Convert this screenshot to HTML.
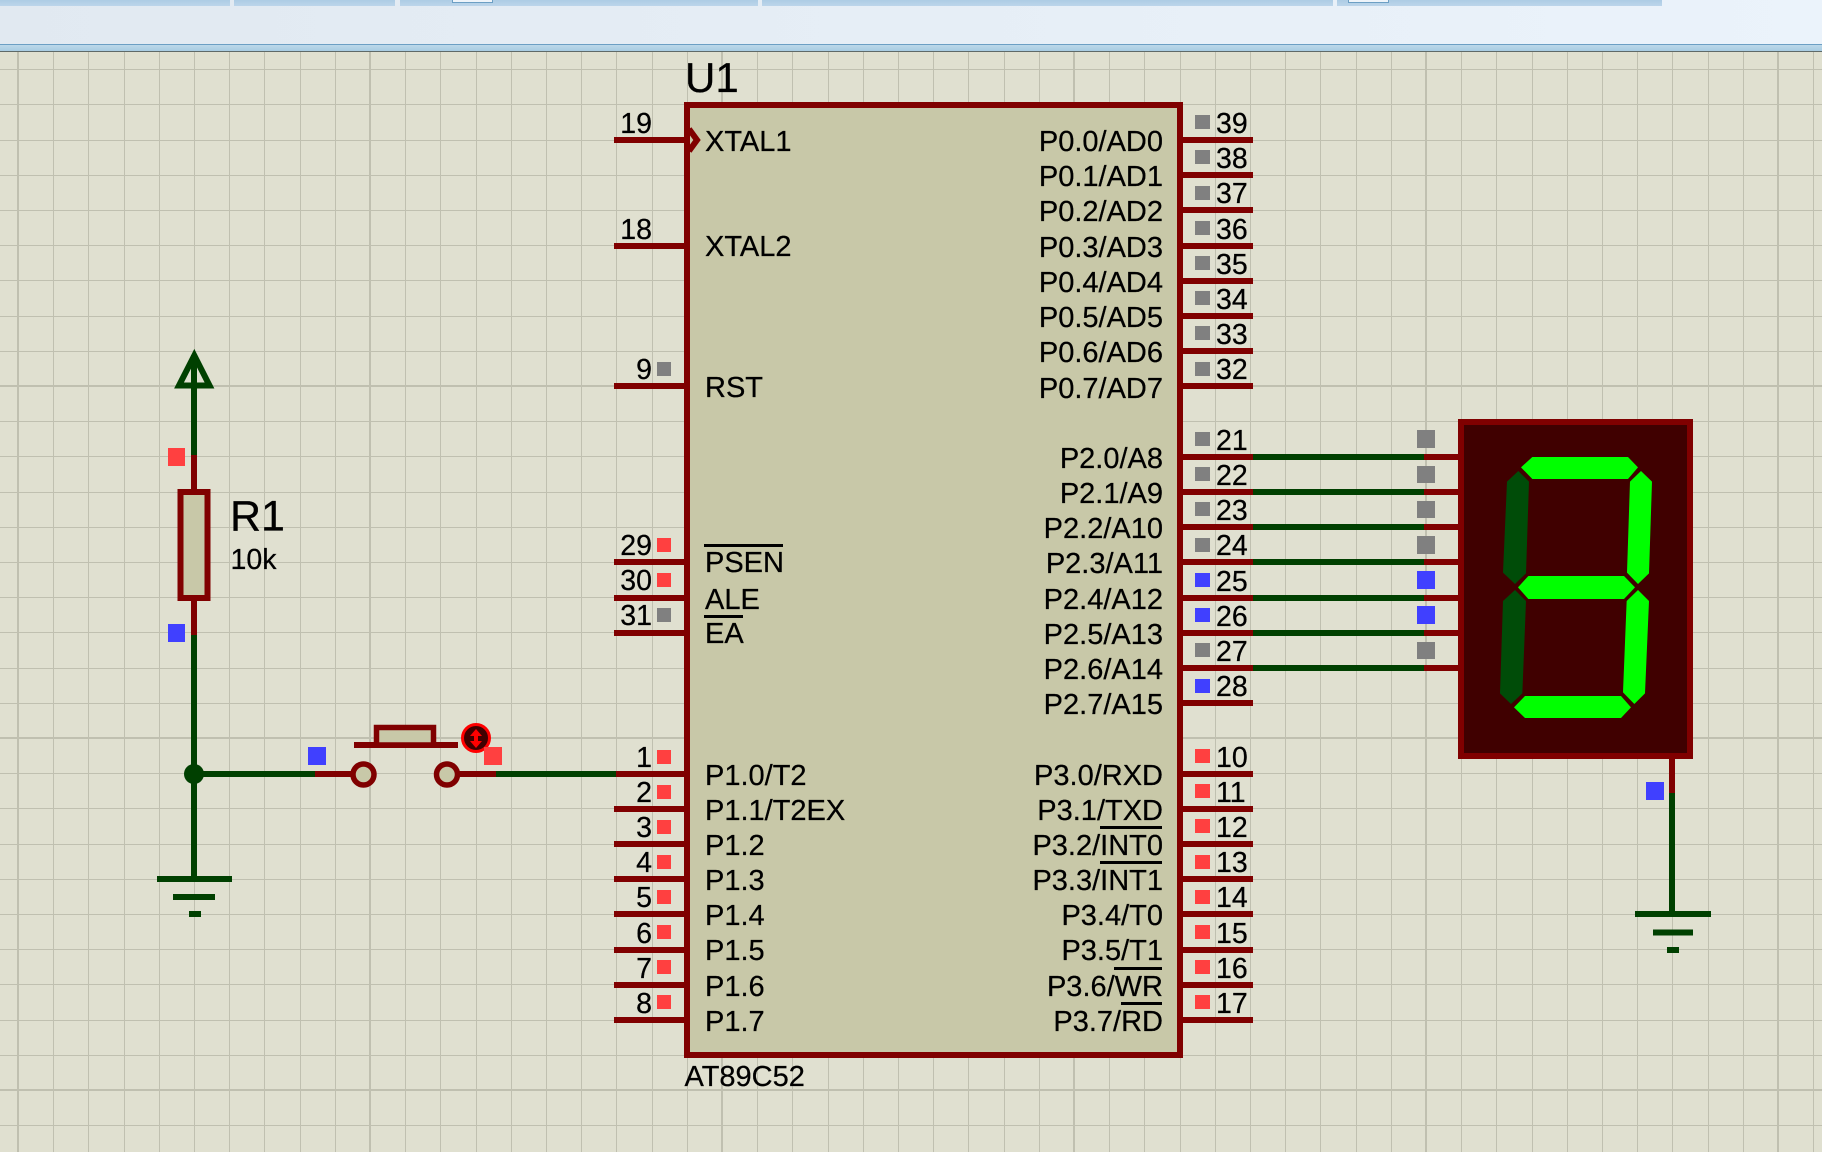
<!DOCTYPE html>
<html><head><meta charset="utf-8"><style>
html,body{margin:0;padding:0;background:#e0e0d0;width:1822px;height:1152px;overflow:hidden}
svg{display:block}
text{font-family:"Liberation Sans",sans-serif;fill:#000;stroke:#000;stroke-width:.25}
.n{font-size:28.5px}
.l{font-size:29px}
.e{text-anchor:end}
.g{stroke:#c0c0b0;stroke-width:1;shape-rendering:crispEdges}
.m{stroke:#c0c0b0;stroke-width:2;shape-rendering:crispEdges}
.r{stroke:#800000;stroke-width:6;fill:none}
.w{stroke:#004000;stroke-width:6;fill:none}
.o{stroke:#000;stroke-width:3;shape-rendering:crispEdges}
.R{fill:#ff4040}.B{fill:#4040ff}.G{fill:#808080}
</style></head><body>
<svg width="1822" height="1152" viewBox="0 0 1822 1152" xmlns="http://www.w3.org/2000/svg">
<defs>
<linearGradient id="bg" x1="0" x2="1" y1="0" y2="0"><stop offset="0" stop-color="#e1e9f1"/><stop offset="1" stop-color="#ebf3fb"/></linearGradient>
<linearGradient id="st" x1="0" x2="0" y1="0" y2="1"><stop offset="0" stop-color="#adcce4"/><stop offset="1" stop-color="#bcd5ea"/></linearGradient>
<linearGradient id="bd" x1="0" x2="0" y1="0" y2="1"><stop offset="0" stop-color="#bcd8ea"/><stop offset="1" stop-color="#a8cce2"/></linearGradient>
</defs>
<rect width="1822" height="1152" fill="#e0e0d0"/>
<!-- grid vertical -->
<g class="g">
<path d="M53.5 52V1152M88.5 52V1152M124.5 52V1152M159.5 52V1152M194.5 52V1152M229.5 52V1152M264.5 52V1152M300.5 52V1152M335.5 52V1152M405.5 52V1152M440.5 52V1152M476.5 52V1152M511.5 52V1152M546.5 52V1152M581.5 52V1152M616.5 52V1152M652.5 52V1152M687.5 52V1152M757.5 52V1152M792.5 52V1152M828.5 52V1152M863.5 52V1152M898.5 52V1152M933.5 52V1152M968.5 52V1152M1004.5 52V1152M1039.5 52V1152M1109.5 52V1152M1144.5 52V1152M1180.5 52V1152M1215.5 52V1152M1250.5 52V1152M1285.5 52V1152M1320.5 52V1152M1356.5 52V1152M1391.5 52V1152M1461.5 52V1152M1496.5 52V1152M1532.5 52V1152M1567.5 52V1152M1602.5 52V1152M1637.5 52V1152M1672.5 52V1152M1708.5 52V1152M1743.5 52V1152M1813.5 52V1152"/>
<path d="M0 69.5H1822M0 104.5H1822M0 140.5H1822M0 175.5H1822M0 210.5H1822M0 245.5H1822M0 280.5H1822M0 316.5H1822M0 351.5H1822M0 421.5H1822M0 456.5H1822M0 492.5H1822M0 527.5H1822M0 562.5H1822M0 597.5H1822M0 632.5H1822M0 668.5H1822M0 703.5H1822M0 773.5H1822M0 808.5H1822M0 844.5H1822M0 879.5H1822M0 914.5H1822M0 949.5H1822M0 984.5H1822M0 1020.5H1822M0 1055.5H1822M0 1125.5H1822"/>
</g>
<g class="m">
<path d="M18 52V1152M370 52V1152M722 52V1152M1074 52V1152M1426 52V1152M1778 52V1152"/>
<path d="M0 386H1822M0 738H1822M0 1090H1822"/>
</g>
<!-- toolbar -->
<rect width="1822" height="44" fill="url(#bg)"/>
<rect x="0" y="0" width="230" height="6" fill="url(#st)"/>
<rect x="234" y="0" width="161" height="6" fill="url(#st)"/>
<rect x="400" y="0" width="358" height="6" fill="url(#st)"/>
<rect x="762" y="0" width="571" height="6" fill="url(#st)"/>
<rect x="1337" y="0" width="325" height="6" fill="url(#st)"/>
<rect x="452.5" y="-2" width="40" height="4.5" fill="#eef4fa" stroke="#6c9fc4"/>
<rect x="1348.5" y="-2" width="40" height="4.5" fill="#eef4fa" stroke="#6c9fc4"/>
<rect x="0" y="44" width="1822" height="1" fill="#6c9fc4"/>
<rect x="0" y="45" width="1822" height="6" fill="url(#bd)"/>
<rect x="0" y="51" width="1822" height="1" fill="#5f6a68"/>

<!-- chip -->
<rect x="687" y="105" width="493" height="950" fill="#c8c8a8" stroke="#800000" stroke-width="6"/>
<text x="685" y="92" style="font-size:42px">U1</text>
<text x="684.5" y="1086" style="font-size:29px">AT89C52</text>
<path class="r" d="M614 140H687M614 246H687M614 386H687M614 562H687M614 598H687M614 633H687M614 774H687M614 809H687M614 844H687M614 879H687M614 914H687M614 950H687M614 985H687M614 1020H687"/>
<path class="r" d="M689 129L697 140L689 151"/>
<path class="r" d="M1180 140H1253M1180 175H1253M1180 210H1253M1180 246H1253M1180 281H1253M1180 316H1253M1180 351H1253M1180 386H1253M1180 457H1253M1180 492H1253M1180 527H1253M1180 562H1253M1180 598H1253M1180 633H1253M1180 668H1253M1180 703H1253M1180 774H1253M1180 809H1253M1180 844H1253M1180 879H1253M1180 914H1253M1180 950H1253M1180 985H1253M1180 1020H1253"/>

<!-- left pin numbers -->
<g class="n">
<text class="e" x="652" y="133">19</text><text class="e" x="652" y="239">18</text><text class="e" x="652" y="379">9</text>
<text class="e" x="652" y="555">29</text><text class="e" x="652" y="590">30</text><text class="e" x="652" y="625">31</text>
<text class="e" x="652" y="767">1</text><text class="e" x="652" y="802">2</text><text class="e" x="652" y="837">3</text><text class="e" x="652" y="872">4</text><text class="e" x="652" y="907">5</text><text class="e" x="652" y="943">6</text><text class="e" x="652" y="978">7</text><text class="e" x="652" y="1013">8</text>
</g>
<!-- right pin numbers -->
<g class="n">
<text x="1216" y="133">39</text><text x="1216" y="168">38</text><text x="1216" y="203">37</text><text x="1216" y="239">36</text><text x="1216" y="274">35</text><text x="1216" y="309">34</text><text x="1216" y="344">33</text><text x="1216" y="379">32</text>
<text x="1216" y="450">21</text><text x="1216" y="485">22</text><text x="1216" y="520">23</text><text x="1216" y="555">24</text><text x="1216" y="591">25</text><text x="1216" y="626">26</text><text x="1216" y="661">27</text><text x="1216" y="696">28</text>
<text x="1216" y="767">10</text><text x="1216" y="802">11</text><text x="1216" y="837">12</text><text x="1216" y="872">13</text><text x="1216" y="907">14</text><text x="1216" y="943">15</text><text x="1216" y="978">16</text><text x="1216" y="1013">17</text>
</g>
<!-- left labels -->
<g class="l">
<text x="705" y="151">XTAL1</text><text x="705" y="256">XTAL2</text><text x="705" y="397">RST</text>
<text x="705" y="572">PSEN</text><text x="705" y="609">ALE</text><text x="705" y="643">EA</text>
<text x="705" y="785">P1.0/T2</text><text x="705" y="820">P1.1/T2EX</text><text x="705" y="855">P1.2</text><text x="705" y="890">P1.3</text><text x="705" y="925">P1.4</text><text x="705" y="960">P1.5</text><text x="705" y="996">P1.6</text><text x="705" y="1031">P1.7</text>
</g>
<!-- right labels -->
<g class="l">
<text class="e" x="1163" y="151">P0.0/AD0</text><text class="e" x="1163" y="186">P0.1/AD1</text><text class="e" x="1163" y="221">P0.2/AD2</text><text class="e" x="1163" y="257">P0.3/AD3</text><text class="e" x="1163" y="292">P0.4/AD4</text><text class="e" x="1163" y="327">P0.5/AD5</text><text class="e" x="1163" y="362">P0.6/AD6</text><text class="e" x="1163" y="398">P0.7/AD7</text>
<text class="e" x="1163" y="468">P2.0/A8</text><text class="e" x="1163" y="503">P2.1/A9</text><text class="e" x="1163" y="538">P2.2/A10</text><text class="e" x="1163" y="573">P2.3/A11</text><text class="e" x="1163" y="609">P2.4/A12</text><text class="e" x="1163" y="644">P2.5/A13</text><text class="e" x="1163" y="679">P2.6/A14</text><text class="e" x="1163" y="714">P2.7/A15</text>
<text class="e" x="1163" y="785">P3.0/RXD</text><text class="e" x="1163" y="820">P3.1/TXD</text><text class="e" x="1163" y="855">P3.2/INT0</text><text class="e" x="1163" y="890">P3.3/INT1</text><text class="e" x="1163" y="925">P3.4/T0</text><text class="e" x="1163" y="960">P3.5/T1</text><text class="e" x="1163" y="996">P3.6/WR</text><text class="e" x="1163" y="1031">P3.7/RD</text>
</g>
<path class="o" d="M704 545.5H783M704 616.5H743M1100 827.5H1162M1100 862.5H1162M1114 968.5H1162M1121 1003.5H1162"/>

<!-- left pin squares -->
<rect class="G" x="657" y="362" width="14" height="14"/>
<rect class="R" x="657" y="538" width="14" height="14"/><rect class="R" x="657" y="573" width="14" height="14"/><rect class="G" x="657" y="608" width="14" height="14"/>
<rect class="R" x="657" y="750" width="14" height="14"/><rect class="R" x="657" y="785" width="14" height="14"/><rect class="R" x="657" y="820" width="14" height="14"/><rect class="R" x="657" y="855" width="14" height="14"/><rect class="R" x="657" y="890" width="14" height="14"/><rect class="R" x="657" y="925" width="14" height="14"/><rect class="R" x="657" y="960" width="14" height="14"/><rect class="R" x="657" y="995" width="14" height="14"/>
<!-- right pin squares -->
<rect class="G" x="1195" y="115" width="15" height="14"/><rect class="G" x="1195" y="150" width="15" height="14"/><rect class="G" x="1195" y="186" width="15" height="14"/><rect class="G" x="1195" y="221" width="15" height="14"/><rect class="G" x="1195" y="256" width="15" height="14"/><rect class="G" x="1195" y="291" width="15" height="14"/><rect class="G" x="1195" y="326" width="15" height="14"/><rect class="G" x="1195" y="362" width="15" height="14"/>
<rect class="G" x="1195" y="432" width="15" height="14"/><rect class="G" x="1195" y="467" width="15" height="14"/><rect class="G" x="1195" y="502" width="15" height="14"/><rect class="G" x="1195" y="538" width="15" height="14"/><rect class="B" x="1195" y="573" width="15" height="14"/><rect class="B" x="1195" y="608" width="15" height="14"/><rect class="G" x="1195" y="643" width="15" height="14"/><rect class="B" x="1195" y="679" width="15" height="14"/>
<rect class="R" x="1195" y="749" width="15" height="14"/><rect class="R" x="1195" y="784" width="15" height="14"/><rect class="R" x="1195" y="819" width="15" height="14"/><rect class="R" x="1195" y="855" width="15" height="14"/><rect class="R" x="1195" y="890" width="15" height="14"/><rect class="R" x="1195" y="925" width="15" height="14"/><rect class="R" x="1195" y="960" width="15" height="14"/><rect class="R" x="1195" y="995" width="15" height="14"/>

<!-- P2 wires to display -->
<path class="w" d="M1253 457H1424M1253 492H1424M1253 527H1424M1253 562H1424M1253 598H1424M1253 633H1424M1253 668H1424"/>
<path class="r" d="M1424 457H1460M1424 492H1460M1424 527H1460M1424 562H1460M1424 598H1460M1424 633H1460M1424 668H1460"/>
<rect class="G" x="1417" y="430" width="18" height="18"/><rect class="G" x="1417" y="466" width="18" height="17"/><rect class="G" x="1417" y="501" width="18" height="17"/><rect class="G" x="1417" y="536" width="18" height="18"/><rect class="B" x="1417" y="571" width="18" height="18"/><rect class="B" x="1417" y="606" width="18" height="18"/><rect class="G" x="1417" y="642" width="18" height="17"/>

<!-- display -->
<rect x="1461" y="422" width="229" height="334" fill="#400000" stroke="#800000" stroke-width="6"/>
<g transform="translate(1400 400) scale(0.33333)">
<polygon fill="#00ff00" points="363,202 397,171 684,171 714,202 684,237 397,237"/>
<polygon fill="#00ff00" points="723,213 756,245 747,520 714,552 681,518 690,245"/>
<polygon fill="#004c08" points="355,213 387,245 378,520 345,552 309,518 321,245"/>
<polygon fill="#00ff00" points="354,562 385,528 672,528 705,562 672,597 385,597"/>
<polygon fill="#004c08" points="345,570 378,603 367,880 333,912 300,880 309,603"/>
<polygon fill="#00ff00" points="714,570 747,603 735,880 703,912 669,877 680,603"/>
<polygon fill="#00ff00" points="342,922 375,888 663,888 693,922 663,954 375,954"/>
</g>
<!-- display ground -->
<path class="r" d="M1672 758V793"/>
<path class="w" d="M1672 793V914M1635 914H1711M1653 932.5H1693M1667 950H1679"/>
<rect class="B" x="1646" y="782" width="18" height="18"/>

<!-- left circuit -->
<path class="w" d="M194 455V355M194 635V879M157 879H232M173 897H215M189 914H201"/>
<path class="w" stroke-linejoin="miter" d="M194.3 355.5L209.5 385.5H179Z"/>
<path class="r" d="M194 455V489M194 601V635"/>
<rect x="180.500" y="492" width="27" height="106" fill="#c8c8a8" stroke="#800000" stroke-width="6"/>
<text x="230" y="530.500" style="font-size:43px">R1</text>
<text x="230.500" y="569" class="n">10k</text>
<rect class="R" x="168" y="448" width="17" height="18"/>
<rect class="B" x="168" y="624" width="17" height="18"/>
<circle cx="194" cy="774" r="10" fill="#004000"/>
<path class="w" d="M194 774H315M496 774H616"/>
<path class="r" d="M315 774H352M459 774H496"/>
<path class="r" d="M354 745H458"/>
<rect x="376.500" y="727.500" width="57" height="17.500" fill="#c8c8a8" stroke="#800000" stroke-width="5.500"/>
<circle cx="363.500" cy="774.500" r="10.500" fill="#c8c8a8" stroke="#800000" stroke-width="5.500"/>
<circle cx="447" cy="774.500" r="10.500" fill="#c8c8a8" stroke="#800000" stroke-width="5.500"/>
<rect class="B" x="308" y="747" width="18" height="18"/>
<circle cx="476" cy="738" r="13.500" fill="#400000" stroke="#ff0000" stroke-width="3"/>
<path d="M476 729L482 736H478V741H482L476 748L470 741H474V736H470Z" fill="#ff0000"/>
<rect class="R" x="484" y="747" width="18" height="18"/>
</svg>
</body></html>
